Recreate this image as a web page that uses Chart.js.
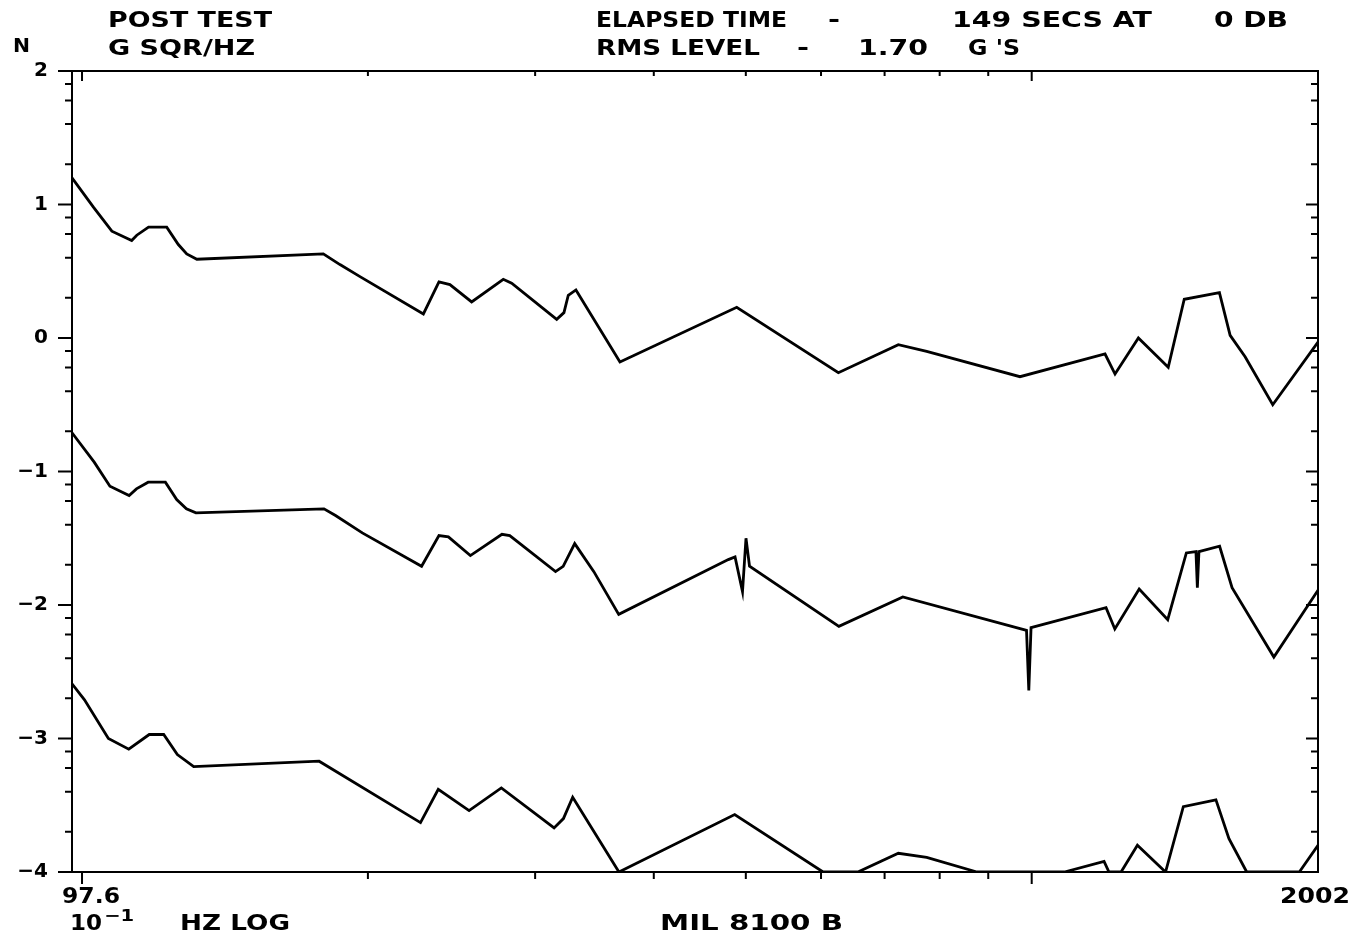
<!DOCTYPE html>
<html>
<head>
    <title>Post Test - G SQR/HZ</title>
    <script src="https://cdn.jsdelivr.net/npm/chart.js"></script>
    <style>
        body { margin: 0; background: white; }
        #wrap { width: 1360px; height: 938px; position: relative; }
    </style>
</head>
<body>
    <div id="wrap"><canvas id="psd"></canvas></div>

    <script>
        // frequencies (Hz) and log10 levels
        const topFreq = [97.6, 102.8, 107.5, 112.8, 114.2, 117.5, 122.8, 126.3, 128.9, 132.1, 179.5, 186.9, 196.2, 228.8, 237.6, 244.0, 257.2, 277.7, 283.4, 316.1, 321.7, 325.1, 331.2, 368.5, 489.1, 625.8, 723.7, 775.2, 972.0, 1194.6, 1223.9, 1295.2, 1392.4, 1447.5, 1576.4, 1617.9, 1677.7, 1794.0, 2002];
        const topVal = [1.20, 0.98, 0.80, 0.73, 0.77, 0.83, 0.83, 0.70, 0.63, 0.59, 0.63, 0.55, 0.46, 0.18, 0.42, 0.40, 0.27, 0.44, 0.41, 0.14, 0.19, 0.32, 0.36, -0.18, 0.23, -0.26, -0.05, -0.10, -0.29, -0.12, -0.27, 0.00, -0.22, 0.29, 0.34, 0.02, -0.14, -0.50, -0.03];

        const midFreq = [97.6, 103.0, 107.0, 112.1, 114.1, 117.4, 122.4, 125.8, 128.8, 131.8, 179.8, 184.9, 197.3, 227.8, 237.6, 243.1, 256.4, 276.8, 282.1, 315.2, 321.1, 330.2, 345.9, 367.4, 479.2, 487.1, 496.0, 500.2, 504.5, 626.6, 731.6, 987.5, 993.0, 998.4, 1197.5, 1223.3, 1297.7, 1390.7, 1454.9, 1489.2, 1494.3, 1500.0, 1577.1, 1625.4, 1798.8, 2002];
        const midVal = [-0.71, -0.93, -1.11, -1.18, -1.13, -1.08, -1.08, -1.21, -1.28, -1.31, -1.28, -1.33, -1.46, -1.71, -1.48, -1.49, -1.63, -1.47, -1.48, -1.75, -1.71, -1.54, -1.75, -2.07, -1.66, -1.64, -1.90, -1.50, -1.71, -2.16, -1.94, -2.19, -2.64, -2.17, -2.02, -2.18, -1.88, -2.11, -1.61, -1.60, -1.87, -1.60, -1.56, -1.87, -2.39, -1.89];

        const lowFreq = [97.6, 100.6, 106.6, 112.0, 117.7, 121.9, 126.0, 131.1, 177.7, 227.2, 237.2, 255.6, 276.4, 314.1, 321.3, 328.6, 367.6, 486.7, 603.0, 656.1, 723.7, 775.2, 875.8, 1082.4, 1191.8, 1206.0, 1241.9, 1292.1, 1383.3, 1444.3, 1563.1, 1613.3, 1684.2, 1913.4, 2002];
        const lowVal = [-2.59, -2.71, -3.00, -3.08, -2.97, -2.97, -3.12, -3.21, -3.17, -3.63, -3.38, -3.54, -3.37, -3.67, -3.60, -3.44, -4.00, -3.57, -4.00, -4.00, -3.86, -3.89, -4.00, -4.00, -3.92, -4.00, -4.00, -3.80, -4.00, -3.51, -3.46, -3.75, -4.00, -4.00, -3.80];

        // axis ticks
        const yMajor = [-4, -3, -2, -1, 0, 1, 2];
        const yMinorSteps = [2, 4, 6, 8];
        const xTicks = [100, 200, 300, 400, 500, 600, 700, 800, 900, 1000];

        // text around the plot: [text, left, baseline, width]
        const notes = [
            ['POST TEST', 108, 27, 164],
            ['G SQR/HZ', 108, 55, 147],
            ['ELAPSED TIME', 596, 27, 191],
            ['-', 828, 27, 12],
            ['149 SECS AT', 952, 27, 200],
            ['0 DB', 1214, 27, 74],
            ['RMS LEVEL', 596, 55, 164],
            ['-', 797, 55, 12],
            ['1.70', 858, 55, 70],
            ["G 'S", 968, 55, 52],
            ['97.6', 62, 903, 58],
            ['10', 70, 930, 32],
            ['HZ LOG', 180, 930, 110],
            ['MIL 8100 B', 660, 930, 183],
            ['2002', 1280, 903, 70]
        ];

        const FONT = '"DejaVu Sans", Arial, sans-serif';

        const pts = (f, v) => f.map((x, i) => ({ x: x, y: v[i] }));

        function fitText(ctx, s, x, y, w) {
            const m = ctx.measureText(s).width;
            ctx.save();
            ctx.translate(x, y);
            ctx.scale(w / m, 1);
            ctx.fillText(s, 0, 0);
            ctx.restore();
        }

        const frame = {
            id: 'frame',
            afterDraw(chart) {
                const ctx = chart.ctx;
                const a = chart.chartArea;
                const xs = chart.scales.x, ys = chart.scales.y;
                ctx.save();
                ctx.strokeStyle = '#000';
                ctx.lineWidth = 2;
                ctx.strokeRect(a.left, a.top, a.right - a.left, a.bottom - a.top);

                ctx.beginPath();
                yMajor.forEach(v => {
                    const py = ys.getPixelForValue(v);
                    ctx.moveTo(a.left - 14, py); ctx.lineTo(a.left, py);
                    ctx.moveTo(a.right - 12, py); ctx.lineTo(a.right, py);
                });
                for (let n = -4; n < 2; n++) {
                    yMinorSteps.forEach(k => {
                        const py = ys.getPixelForValue(n + Math.log10(k));
                        ctx.moveTo(a.left - 7, py); ctx.lineTo(a.left, py);
                        ctx.moveTo(a.right - 7, py); ctx.lineTo(a.right, py);
                    });
                }
                xTicks.forEach(f => {
                    const px = xs.getPixelForValue(f);
                    const len = (f === 100 || f === 1000) ? 12 : 7;
                    ctx.moveTo(px, a.bottom); ctx.lineTo(px, a.bottom + len);
                    ctx.moveTo(px, a.top); ctx.lineTo(px, a.top + len - 2);
                });
                ctx.stroke();

                // header / footer text
                ctx.fillStyle = '#000';
                ctx.textBaseline = 'alphabetic';
                ctx.font = 'bold 21px ' + FONT;
                notes.forEach(t => fitText(ctx, t[0], t[1], t[2], t[3]));
                ctx.font = 'bold 16px ' + FONT;
                fitText(ctx, '\u22121', 104, 921, 30);
                ctx.font = 'bold 19px ' + FONT;
                fitText(ctx, 'N', 13, 52, 17);
                ctx.restore();
            }
        };

        const lineStyle = {
            borderColor: '#000',
            borderWidth: 2.8,
            pointRadius: 0,
            tension: 0,
            fill: false
        };

        new Chart(document.getElementById('psd'), {
            type: 'line',
            data: {
                datasets: [
                    Object.assign({ label: 'upper', data: pts(topFreq, topVal) }, lineStyle),
                    Object.assign({ label: 'measured', data: pts(midFreq, midVal) }, lineStyle),
                    Object.assign({ label: 'lower', data: pts(lowFreq, lowVal) }, lineStyle)
                ]
            },
            options: {
                responsive: true,
                maintainAspectRatio: false,
                animation: false,
                layout: { padding: { top: 71, right: 42, bottom: 66, left: 0 } },
                plugins: { legend: { display: false }, tooltip: { enabled: false } },
                scales: {
                    x: {
                        type: 'logarithmic',
                        bounds: 'data',
                        min: 97.6,
                        max: 2002,
                        ticks: { display: false },
                        grid: { display: false },
                        border: { display: false },
                        afterFit: s => { s.height = 0; }
                    },
                    y: {
                        min: -4,
                        max: 2,
                        ticks: {
                            stepSize: 1,
                            padding: 24,
                            color: '#000',
                            font: { family: FONT, size: 20, weight: 'bold' },
                            callback: v => String(v).replace('-', '\u2212')
                        },
                        grid: { display: true, drawOnChartArea: false, drawTicks: false },
                        border: { display: false },
                        afterFit: s => { s.width = 72; }
                    }
                }
            },
            plugins: [frame]
        });
    </script>
</body>
</html>
